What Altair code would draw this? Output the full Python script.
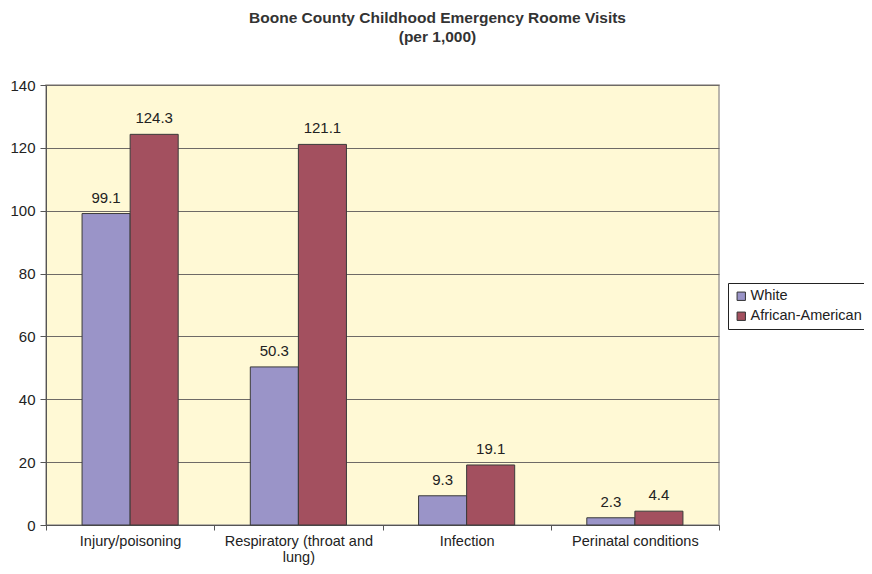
import altair as alt
import pandas as pd

categories = ["Injury/poisoning", "Respiratory (throat and lung)", "Infection", "Perinatal conditions"]
groups = ["White", "African-American"]
white = [99.1, 50.3, 9.3, 2.3]
african_american = [124.3, 121.1, 19.1, 4.4]
colors = ["#9A94C8", "#A3505F"]

rows = []
for c, w, a in zip(categories, white, african_american):
    rows.append({"category": c, "group": groups[0], "value": w})
    rows.append({"category": c, "group": groups[1], "value": a})
df = pd.DataFrame(rows)

FONT = "Liberation Sans"
FS = 15

x = alt.X("category:N", sort=categories, title=None,
          scale=alt.Scale(paddingInner=0, paddingOuter=0),
          axis=alt.Axis(labelAngle=0, tickBand="extent", tickSize=5, labelPadding=4,
                        labelFontSize=14.5, labelFont=FONT, labelColor="#222",
                        labelLineHeight=16.5, domainColor="#555", tickColor="#555",
                        labelExpr="datum.value == 'Respiratory (throat and lung)' ? ['Respiratory (throat and', 'lung)'] : datum.value"))
xo = alt.XOffset("group:N", sort=groups, scale=alt.Scale(paddingInner=0, paddingOuter=0.75))
y = alt.Y("value:Q", title=None,
          scale=alt.Scale(domain=[0, 140], nice=False),
          axis=alt.Axis(values=[0, 20, 40, 60, 80, 100, 120, 140], tickSize=6, labelPadding=5,
                        labelFontSize=FS, labelFont=FONT, labelColor="#222",
                        grid=True, gridColor="#6E6A66", gridWidth=1,
                        domainColor="#555", tickColor="#555"))

bars = alt.Chart(df).mark_bar(stroke="#3A3A3A", strokeWidth=1).encode(
    x=x, xOffset=xo, y=y,
    color=alt.Color("group:N", sort=groups,
                    scale=alt.Scale(domain=groups, range=colors),
                    legend=alt.Legend(title=None, orient="none", legendX=682, legendY=198,
                                      labelFont=FONT, labelFontSize=14.5, labelColor="#222",
                                      symbolType="square", symbolSize=70,
                                      symbolStrokeColor="#333", symbolStrokeWidth=1,
                                      symbolOpacity=1,
                                      strokeColor="#222", padding=6, rowPadding=5,
                                      labelOffset=2)),
)

labels = alt.Chart(df).mark_text(baseline="bottom", dy=-8, fontSize=FS, font=FONT, color="#222").encode(
    x=x, xOffset=xo, y=y,
    text=alt.Text("value:Q", format=".1f"),
)

chart = alt.layer(bars, labels).properties(
    width=673, height=440,
    autosize=alt.AutoSizeParams(type="none"),
    padding={"left": 38, "top": 77, "right": 145, "bottom": 41},
    title=alt.TitleParams(["Boone County Childhood Emergency Roome Visits", "(per 1,000)"],
                          font=FONT, fontSize=15.5, fontWeight="bold", color="#333",
                          anchor="middle", dx=55, offset=33, lineHeight=19),
    background="white",
).configure_view(fill="#FFF9D5", stroke="#A39E9A", strokeWidth=1.5)

chart.save("out.html", embed_options={"renderer": "svg", "actions": False})
